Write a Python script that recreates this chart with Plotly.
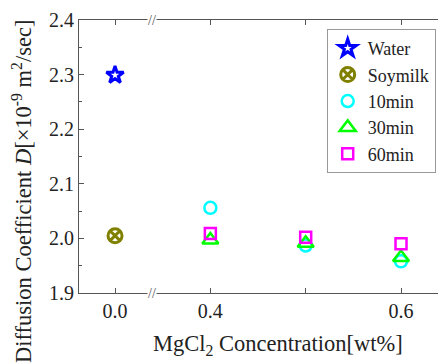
import plotly.graph_objects as go

# Data
tick_labels = ["0.0", "0.4", " ", "0.6"]
concentrations = [0.0, 0.4, 0.5, 0.6]
water_x = [0.0]
water_y = [2.299]
soymilk_x = [0.0]
soymilk_y = [2.005]
min10_x = [0.4, 0.5, 0.6]
min10_y = [2.056, 1.987, 1.958]
min30_x = [0.4, 0.5, 0.6]
min30_y = [1.997, 1.991, 1.965]
min60_x = [0.4, 0.5, 0.6]
min60_y = [2.009, 2.002, 1.990]

def pos(xs):
    return [concentrations.index(v) for v in xs]

FONT = "Liberation Serif"
fig = go.Figure()
series = [
    ("Water", water_x, water_y, "star-open", "#0000FF", 13, 3),
    ("Soymilk", soymilk_x, soymilk_y, "circle-x-open", "#808000", 14, 3),
    ("10min", min10_x, min10_y, "circle-open", "#00FFFF", 12, 2.5),
    ("30min", min30_x, min30_y, "triangle-up-open", "#00FF00", 14, 2.5),
    ("60min", min60_x, min60_y, "square-open", "#FF00FF", 11, 2.5),
]
for name, xs, ys, sym, col, sz, lw in series:
    fig.add_trace(go.Scatter(
        x=pos(xs), y=ys, mode="markers", name=name,
        marker=dict(symbol=sym, color=col, size=sz, line=dict(width=lw, color=col)),
    ))

axis_common = dict(showline=True, linecolor="#555", linewidth=1, ticks="inside",
                   tickcolor="#555", showgrid=False, zeroline=False,
                   tickfont=dict(family=FONT, size=20, color="#222"))
fig.update_xaxes(range=[-0.378, 3.388], tickvals=[0, 1, 2, 3], ticktext=tick_labels,
                 ticklen=5, mirror="ticks", **axis_common)
fig.update_yaxes(range=[1.9, 2.4], dtick=0.1, tickformat=".1f", ticklen=5,
                 minor=dict(dtick=0.05, ticklen=3, ticks="inside", tickcolor="#555"),
                 **axis_common)

# axis-break marks
for yy in (0, 1):
    fig.add_annotation(x=0.39, y=yy, xref="x", yref="paper", text="//", showarrow=False,
                       font=dict(family=FONT, size=14, color="#555"), bgcolor="white",
                       borderpad=0, xanchor="center", yanchor="middle")

# axis titles
fig.add_annotation(xref="paper", yref="paper", x=(278 - 79) / 359, y=(293 - 345) / 273,
                   text="MgCl<sub>2</sub> Concentration[wt%]", showarrow=False,
                   font=dict(family=FONT, size=22.5, color="#222"),
                   xanchor="center", yanchor="middle")
fig.add_annotation(xref="paper", yref="paper", x=(22 - 79) / 359, y=(293 - 192) / 273,
                   text="Diffusion Coefficient <i>D</i>[×10<sup>-9</sup> m<sup>2</sup>/sec]",
                   textangle=-90, showarrow=False,
                   font=dict(family=FONT, size=22.5, color="#222"),
                   xanchor="center", yanchor="middle")

fig.update_layout(
    width=438, height=363,
    margin=dict(l=79, r=0, t=20, b=70),
    plot_bgcolor="white", paper_bgcolor="white",
    font=dict(family=FONT, size=20, color="#222"),
    legend=dict(x=0.69, y=0.967, xanchor="left", yanchor="top",
                bordercolor="#999", borderwidth=1, bgcolor="white",
                font=dict(family=FONT, size=18, color="#222"),
                itemsizing="trace", tracegroupgap=0),
    showlegend=True,
)
fig.write_html("out.html", config={"displayModeBar": False})

# remove default page margin so the figure fills the window exactly
with open("out.html", encoding="utf-8") as f:
    html = f.read()
html = html.replace("<head>", "<head><style>html,body{margin:0;padding:0;overflow:hidden;}</style>", 1)
with open("out.html", "w", encoding="utf-8") as f:
    f.write(html)
